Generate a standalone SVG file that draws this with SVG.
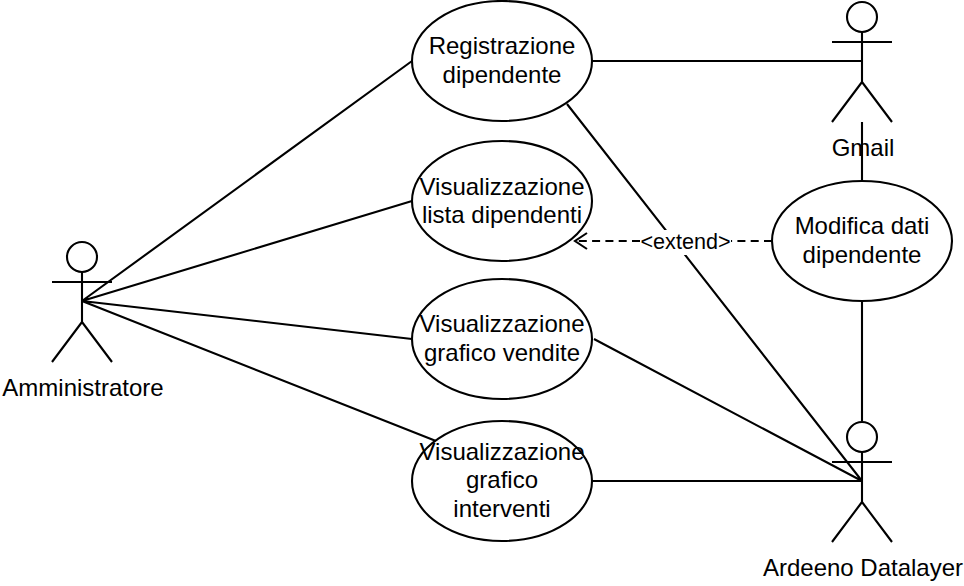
<svg xmlns="http://www.w3.org/2000/svg" width="964" height="586" viewBox="0 0 964 586">
<defs>
<style>
.s{fill:none;stroke:#000;stroke-width:2.1}
.e{fill:#fff;stroke:#000;stroke-width:2.1}
text{font-family:"Liberation Sans",Arial,sans-serif;font-size:24px;fill:#000;text-anchor:middle}
.l{font-size:21.6px}
</style>
<g id="actor">
<circle class="e" cx="30" cy="16" r="15"/>
<path class="s" d="M30 31V81M0 41H60M30 81L0 121M30 81L60 121"/>
</g>
</defs>
<rect width="964" height="586" fill="#fff"/>
<g id="connectors">
<path class="s" d="M82 301L412 61M82 301L412 201M82 301L412 339M82 301L436 441M592 61H862M567 104L862 481M594 339L862 481M592 481H862M862 122V181M862 301V421"/>
<rect x="640" y="230" width="91" height="25" fill="#fff"/>
<path class="s" d="M772 241H731M640 241H577" stroke-dasharray="8 5.300"/>
<path class="s" d="M587 233L575 241L587 249"/>
</g>
<g id="uc1"><ellipse class="e" cx="502" cy="61" rx="90" ry="60"/><text x="502" y="54">Registrazione</text><text x="502" y="83">dipendente</text></g>
<g id="uc2"><ellipse class="e" cx="502" cy="201" rx="90" ry="60"/><text x="502" y="195">Visualizzazione</text><text x="502" y="223">lista dipendenti</text></g>
<g id="uc3"><ellipse class="e" cx="502" cy="339" rx="90" ry="60"/><text x="502" y="332">Visualizzazione</text><text x="502" y="361">grafico vendite</text></g>
<g id="uc4"><ellipse class="e" cx="502" cy="481" rx="90" ry="60"/><text x="502" y="460">Visualizzazione</text><text x="502" y="488">grafico</text><text x="502" y="517">interventi</text></g>
<g id="uc5"><ellipse class="e" cx="862" cy="241" rx="90" ry="60"/><text x="862" y="234">Modifica dati</text><text x="862" y="263">dipendente</text></g>
<g id="a1"><use href="#actor" x="52" y="241"/><text x="83" y="396">Amministratore</text></g>
<g id="a2"><use href="#actor" x="832" y="1"/><text x="863" y="156">Gmail</text></g>
<g id="a3"><use href="#actor" x="832" y="421"/><text x="863" y="576">Ardeeno Datalayer</text></g>
<text class="l" x="685.500" y="249">&lt;extend&gt;</text>
</svg>
